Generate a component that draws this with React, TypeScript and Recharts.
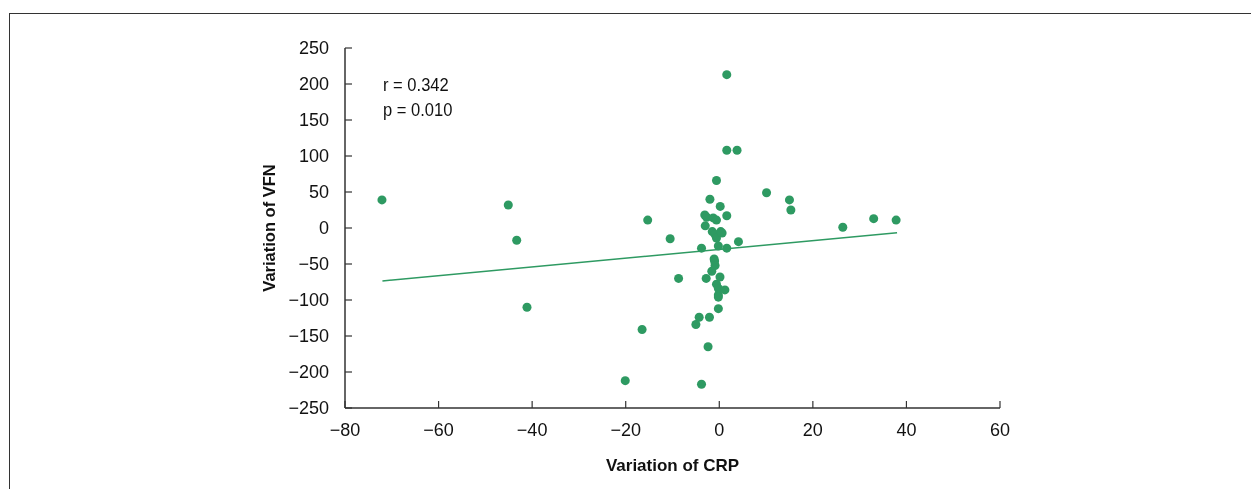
import React from "react";
import {
  ScatterChart,
  Scatter,
  XAxis,
  YAxis,
  ZAxis,
  ReferenceLine,
} from "recharts";

// variation of CRP (x) vs variation of VFN (y)
const crpValues = [
  -72.1, -45.1, -43.3, -41.1, -20.1, -16.5, -15.3, -10.5, -8.7, -5.0,
  -4.3, -3.8, -3.8, -3.1, -2.7, -3.0, -2.4, -2.1, -2.0, -2.8,
  -1.6, -1.5, -1.3, -1.1, -1.0, -0.9, -0.9, -0.6, -0.6, -0.6,
  -0.6, -0.2, -0.2, -0.2, -0.2, -0.2, 0.2, 0.3, 0.6, 0.15,
  1.2, 1.6, 1.6, 1.6, 1.6, 3.8, 4.1, 10.1, 15.0, 15.3,
  26.4, 33.0, 37.8,
];
const vfnValues = [
  39, 32, -17, -110, -212, -141, 11, -15, -70, -134,
  -124, -217, -28, 18, 15, 3, -165, -124, 40, -70,
  -60, -5, 14, -43, -46, -9, -52, 11, -14, 66,
  -78, -25, -84, -93, -96, -112, 30, -5, -7, -68,
  -86, 213, 108, 17, -28, 108, -19, 49, 39, 25,
  1, 13, 11,
];

const trendX = [-72, 38];
const trendY = [-73.6, -6.5];

const xTicks = [-80, -60, -40, -20, 0, 20, 40, 60];
const yTicks = [-250, -200, -150, -100, -50, 0, 50, 100, 150, 200, 250];

const points = crpValues.map((x, i) => ({ x, y: vfnValues[i] }));

const GREEN = "#2e9a62";
const FONT = "'Liberation Sans Narrow', 'Arial Narrow', 'Liberation Sans', sans-serif";

const fmt = (v: number) => String(v).replace("-", "\u2212");

export default function App() {
  return (
    <div style={{ position: "relative", width: 1235, height: 473, fontFamily: FONT }}>
      <div
        style={{
          position: "fixed",
          left: 9,
          top: 13,
          right: 0,
          bottom: 0,
          borderTop: "1px solid #333",
          borderLeft: "1px solid #333",
          pointerEvents: "none",
        }}
      />
      <ScatterChart
        width={1100}
        height={473}
        margin={{ top: 40, right: 108, left: 257, bottom: 3 }}
        style={{ position: "absolute", left: 0, top: 0 }}
      >
        <XAxis
          type="number"
          dataKey="x"
          domain={[-80, 60]}
          ticks={xTicks}
          tickFormatter={fmt}
          height={70}
          tickSize={-7}
          tickMargin={22}
          axisLine={{ stroke: "#333", strokeWidth: 1.5 }}
          tickLine={{ stroke: "#333", strokeWidth: 1.2 }}
          tick={{ fill: "#111", fontSize: 18, fontFamily: FONT }}
          label={{
            value: "Variation of CRP",
            position: "insideBottom",
            offset: 7,
            style: { fill: "#111", fontSize: 17, fontWeight: 700, fontFamily: FONT },
          }}
        />
        <YAxis
          type="number"
          dataKey="y"
          domain={[-250, 250]}
          ticks={yTicks}
          tickFormatter={fmt}
          width={80}
          tickSize={-7}
          tickMargin={23}
          axisLine={{ stroke: "#333", strokeWidth: 1.5 }}
          tickLine={{ stroke: "#333", strokeWidth: 1.2 }}
          tick={{ fill: "#111", fontSize: 18, fontFamily: FONT }}
          label={{
            value: "Variation of VFN",
            angle: -90,
            position: "insideLeft",
            offset: 4.5,
            style: {
              fill: "#111",
              fontSize: 16.5,
              fontWeight: 700,
              fontFamily: FONT,
              textAnchor: "middle",
            },
          }}
        />
        <ZAxis range={[55, 55]} />
        <ReferenceLine
          segment={[
            { x: trendX[0], y: trendY[0] },
            { x: trendX[1], y: trendY[1] },
          ]}
          stroke={GREEN}
          strokeWidth={1.5}
        />
        <Scatter data={points} fill={GREEN} isAnimationActive={false} />
      </ScatterChart>
      <div
        style={{
          position: "absolute",
          left: 375,
          top: 64,
          fontSize: 19,
          lineHeight: "25px",
          color: "#111",
          fontFamily: FONT,
          transform: "scaleX(0.87)",
          transformOrigin: "left top",
        }}
      >
        <div>r = 0.342</div>
        <div>p = 0.010</div>
      </div>
    </div>
  );
}
